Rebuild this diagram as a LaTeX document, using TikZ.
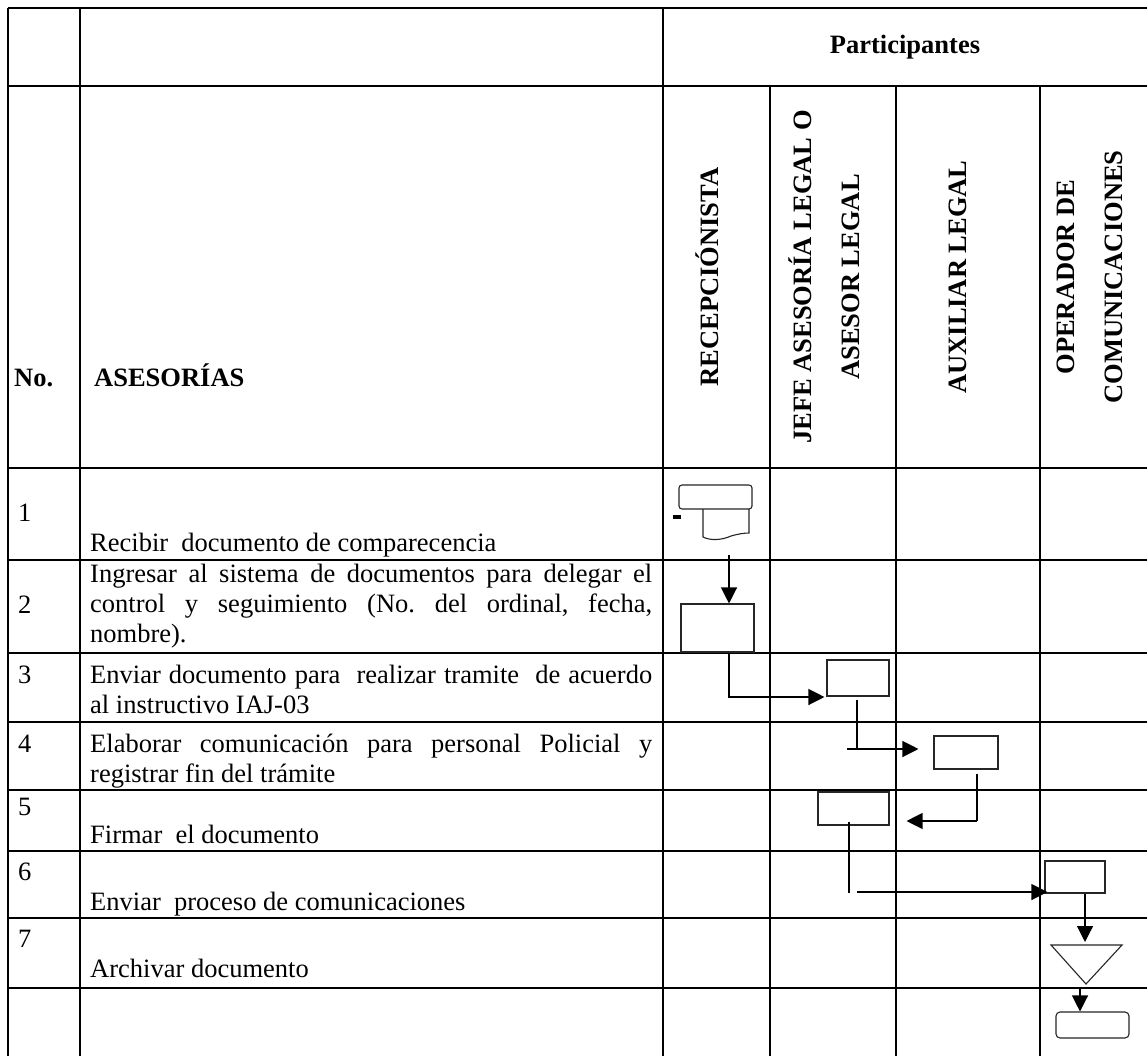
\documentclass[tikz,border=0pt]{standalone}
\usepackage{fontspec}
\setmainfont{Liberation Serif}
\usetikzlibrary{arrows.meta,calc}
\frenchspacing

\newcommand\tblfont{\fontsize{26.5}{30}\selectfont}
\newcommand\hdrfont{\bfseries\fontsize{26.5}{48}\selectfont}

\tikzset{
  frame/.style={line width=1.8pt},
  grid/.style={line width=1.4pt},
  celltext/.style={anchor=base west, inner sep=0pt, font=\tblfont},
  hdr/.style={inner sep=0pt, font=\hdrfont},
  vhdr/.style={inner sep=0pt, font=\hdrfont, rotate=90, align=center},
  boxline/.style={draw=black!85, line width=1.1pt},
  stepbox/.style={boxline, inner sep=0pt},
  conn/.style={line width=1.2pt},
  flow/.style={line width=1.2pt, -{Triangle[length=16pt,width=16pt]}}
}

\begin{document}
\begin{tikzpicture}[x=1pt,y=-1pt]
\useasboundingbox (0,0) rectangle (1147,1056);
\clip (0,0) rectangle (1147,1056);
\fill[white] (0,0) rectangle (1147,1056);

% ---- table grid ----
\draw[frame] (8,8) -- (1149,8);
\draw[frame] (8,8) -- (8,1058);
\foreach \y in {86,468,560,653,722,790,851,918,988,1058}
  \draw[grid] (8,\y) -- (1149,\y);
\foreach \x in {80,663,1149}
  \draw[grid] (\x,8) -- (\x,1058);
\foreach \x in {770,896,1040}
  \draw[grid] (\x,86) -- (\x,1058);

% ---- headers ----
\node[hdr, anchor=base] (hpart) at (905,54) {Participantes};
\node[hdr, anchor=base west] (hno) at (14,386) {No.};
\node[hdr, anchor=base west] (hases) at (94,386) {ASESORÍAS};
\node[vhdr] (hrec) at (707,277) {RECEPCIÓNISTA};
\node[vhdr] (hjefe) at (824,277) {JEFE ASESORÍA LEGAL O\\ASESOR LEGAL};
\node[vhdr] (haux) at (958,277) {AUXILIAR LEGAL};
\node[vhdr] (hop) at (1090,277) {OPERADOR DE\\COMUNICACIONES};

% ---- step numbers ----
\node[celltext] (n1) at (18,521) {1};
\node[celltext] (n2) at (18,613) {2};
\node[celltext] (n3) at (18,683) {3};
\node[celltext] (n4) at (18,752) {4};
\node[celltext] (n5) at (18,815) {5};
\node[celltext] (n6) at (18,880) {6};
\node[celltext] (n7) at (18,947) {7};

% ---- step descriptions ----
\node[celltext] (s1) at (90,551) {\parbox[t]{562pt}{Recibir\ \ documento de comparecencia}};
\node[celltext] (s2) at (90,582) {\parbox[t]{562pt}{Ingresar al sistema de documentos para delegar el\linebreak control y seguimiento (No. del ordinal, fecha,\linebreak nombre).}};
\node[celltext] (s3) at (90,683) {\parbox[t]{562pt}{Enviar documento para\ \ realizar tramite\ \ de acuerdo\linebreak al instructivo IAJ-03}};
\node[celltext] (s4) at (90,752) {\parbox[t]{562pt}{Elaborar comunicación para personal Policial y\linebreak registrar fin del trámite}};
\node[celltext] (s5) at (90,843) {Firmar\ \ el documento};
\node[celltext] (s6) at (90,910) {Enviar\ \ proceso de comunicaciones};
\node[celltext] (s7) at (90,977) {Archivar documento};

% ---- flow symbols ----
\node[stepbox, rounded corners=3pt, minimum width=73pt, minimum height=24pt] (d1) at (715.5,497) {};
\draw[boxline] (703,509) -- (703,537)
  .. controls (711,541) and (722,540) .. (731,536)
  .. controls (738,534) and (744,533) .. (749,533) -- (749,509);
\node[fill=black, inner sep=0pt, minimum width=8pt, minimum height=3.5pt] (mark1) at (677,517) {};
\node[stepbox, minimum width=73pt, minimum height=48pt] (p2) at (717.5,628) {};
\node[stepbox, minimum width=62pt, minimum height=36pt] (p3) at (858,678) {};
\node[stepbox, minimum width=64pt, minimum height=33pt] (p4) at (966,752.5) {};
\node[stepbox, minimum width=71pt, minimum height=33pt] (p5) at (853.5,808.5) {};
\node[stepbox, minimum width=60pt, minimum height=32pt] (p6) at (1075,877) {};
\coordinate (t7n) at (1085,945);
\coordinate (t7s) at (1086,984);
\draw[boxline] (1051,945) -- (1122,945) -- (t7s) -- cycle;
\node[stepbox, rounded corners=4pt, minimum width=73pt, minimum height=26pt] (e8) at (1092.5,1025) {};

% ---- connectors ----
\coordinate (d1out) at (729,555);
\coordinate (c23) at (729,697);
\coordinate (c34) at (857,749);
\coordinate (c45) at (977,821);
\coordinate (c56) at (849,893);
\coordinate (c78) at (1080,989);

\draw[flow] (d1out) -- (d1out |- p2.north);
\draw[flow] (d1out |- p2.south) -- (c23) -- ($(p3.south west |- c23)+(-2,0)$);
\draw[conn] ($(p3.south -| c34)+(0,3)$) -- (c34);
\draw[flow] ($(c34)+(-10,0)$) -- ($(p4.west |- c34)+(-15,0)$);
\draw[conn] ($(p4.south -| c45)+(0,4)$) -- (c45);
\draw[flow] (c45) -- ($(p5.east |- c45)+(17,0)$);
\draw[conn] ($(p5.south -| c56)+(0,-4)$) -- (c56);
\draw[flow] ($(c56)+(8,-1)$) -- ($(p6.west |- c56)+(3,-1)$);
\draw[flow] (p6.south -| t7n) -- ($(t7n)+(0,-3)$);
\draw[flow] (c78) -- (c78 |- e8.north);
\end{tikzpicture}
\end{document}
